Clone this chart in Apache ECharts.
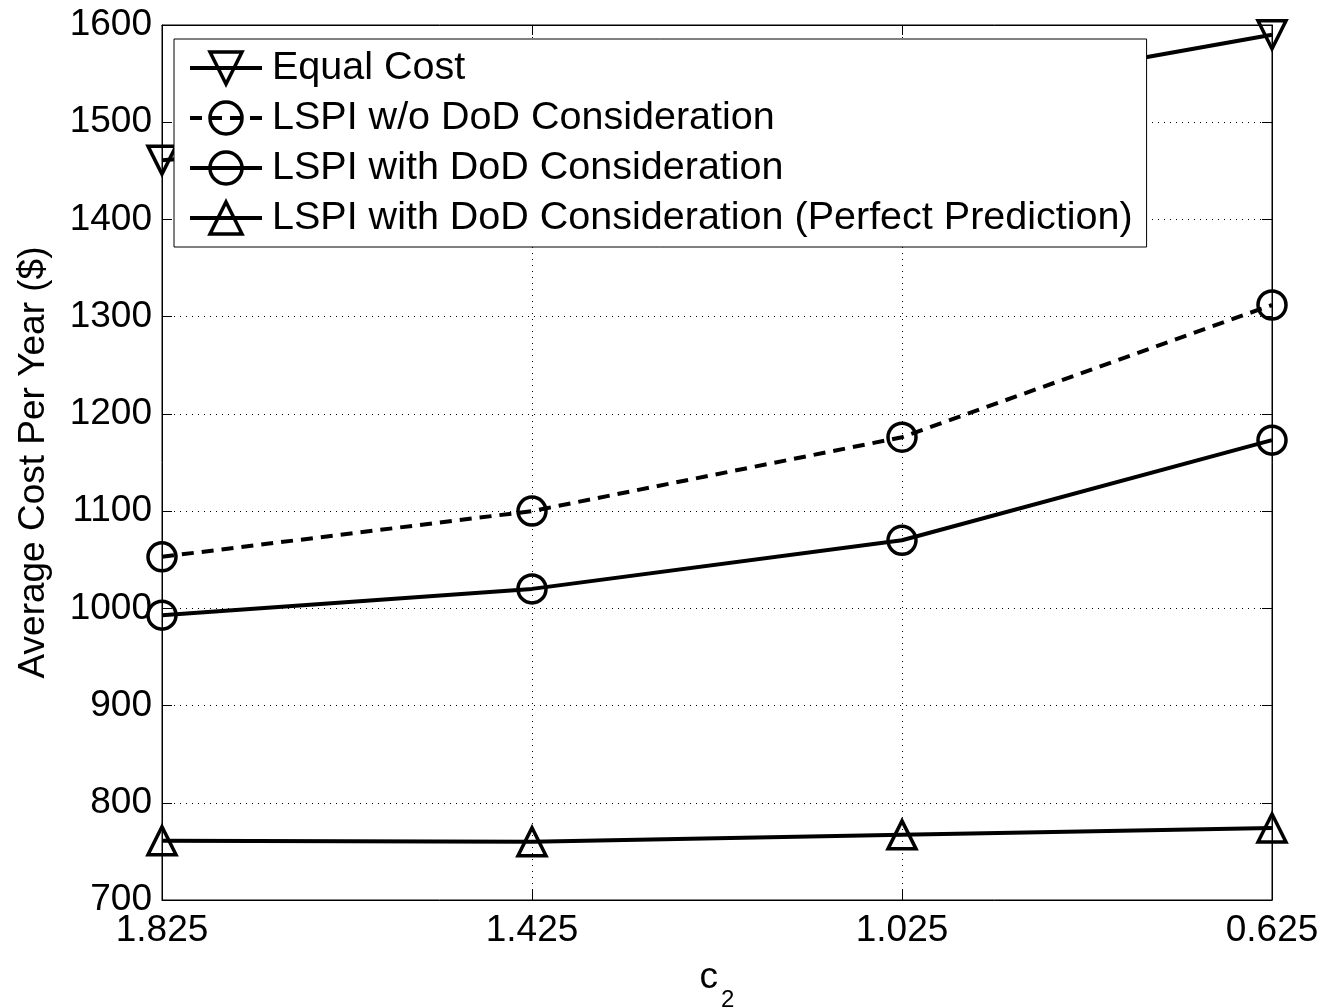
<!DOCTYPE html>
<html>
<head>
<meta charset="utf-8">
<script src="https://cdn.jsdelivr.net/npm/echarts@6/dist/echarts.min.js"></script>
<style>html,body{margin:0;padding:0;background:#fff;overflow:hidden;}#c{width:100vw;height:100vh;}</style>
</head>
<body>
<div id="c"></div>
<script>
const categories = ['1.825', '1.425', '1.025', '0.625'];
const equalCost = [1461, 1490, 1522, 1590];
const lspiWithout = [1053, 1100, 1176, 1312];
const lspiWith = [993, 1020, 1070, 1173];
const lspiPerfect = [761, 760, 767, 774];
const seriesNames = ['Equal Cost', 'LSPI w/o DoD Consideration', 'LSPI with DoD Consideration', 'LSPI with DoD Consideration (Perfect Prediction)'];

const FONT = 'Liberation Sans, Arial, sans-serif';
const chart = echarts.init(document.getElementById('c'), null, {renderer: 'canvas'});
const mk = (name, data, symbol, rotate, dashed) => ({
  name, type: 'line', data, symbol, symbolRotate: rotate, symbolSize: 28,
  showAllSymbol: true,
  lineStyle: {color: '#000', width: 4, type: dashed ? [12, 8] : 'solid'},
  itemStyle: {color: 'rgba(0,0,0,0)', borderColor: '#000', borderWidth: 3.5},
  emphasis: {disabled: true}, animation: false, z: 3
});
chart.setOption({
  animation: false,
  backgroundColor: '#fff',
  grid: {left: 162, right: 55, top: 25, bottom: 108, show: true, borderColor: '#000', borderWidth: 1, containLabel: false, outerBoundsMode: 'none'},
  legend: {
    orient: 'vertical', left: 174, top: 39, data: seriesNames,
    backgroundColor: '#fff', borderColor: '#000', borderWidth: 1,
    padding: [9, 14, 9, 14], itemGap: 10, itemWidth: 72, itemHeight: 40,
    lineStyle: {width: 4},
    itemStyle: {borderWidth: 3.5},
    textStyle: {fontFamily: FONT, fontSize: 39.5, color: '#000', lineHeight: 40, padding: [0, 0, 0, 5]},
    selectedMode: false
  },
  xAxis: [{
    type: 'category', data: categories, boundaryGap: false,
    axisLine: {lineStyle: {color: '#000', width: 1}},
    axisTick: {inside: true, length: 10, lineStyle: {color: '#000'}, alignWithLabel: true},
    axisLabel: {fontFamily: FONT, fontSize: 37, color: '#000', margin: 12, showMinLabel: true, showMaxLabel: true},
    splitLine: {show: true, lineStyle: {color: '#000', type: [1, 5], width: 1}},
    name: '{c|c}{s|2}', nameLocation: 'middle', nameGap: 59,
    nameTextStyle: {verticalAlign: 'top', rich: {
      c: {fontFamily: FONT, fontSize: 37, color: '#000', lineHeight: 37, verticalAlign: 'top'},
      s: {fontFamily: FONT, fontSize: 24, color: '#000', lineHeight: 53, verticalAlign: 'bottom', padding: [0, 0, 0, 3]}
    }}
  }, {
    type: 'category', data: categories, boundaryGap: false, position: 'top',
    axisLine: {lineStyle: {color: '#000'}},
    axisTick: {inside: true, length: 10, lineStyle: {color: '#000'}},
    axisLabel: {show: false}, splitLine: {show: false}
  }],
  yAxis: [{
    type: 'value', min: 700, max: 1600, interval: 100,
    axisLine: {show: true, lineStyle: {color: '#000', width: 1}},
    axisTick: {show: true, inside: true, length: 10, lineStyle: {color: '#000'}},
    axisLabel: {fontFamily: FONT, fontSize: 37, color: '#000', margin: 10, formatter: v => String(v)},
    splitLine: {show: true, lineStyle: {color: '#000', type: [1, 5], width: 1}},
    name: 'Average Cost Per Year ($)', nameLocation: 'middle', nameGap: 110,
    nameTextStyle: {fontFamily: FONT, fontSize: 37, color: '#000'}
  }, {
    type: 'value', min: 700, max: 1600, interval: 100, position: 'right',
    axisLine: {show: true, lineStyle: {color: '#000'}},
    axisTick: {show: true, inside: true, length: 10, lineStyle: {color: '#000'}},
    axisLabel: {show: false}, splitLine: {show: false}
  }],
  series: [
    mk(seriesNames[0], equalCost, 'triangle', 180, false),
    mk(seriesNames[1], lspiWithout, 'circle', 0, true),
    mk(seriesNames[2], lspiWith, 'circle', 0, false),
    mk(seriesNames[3], lspiPerfect, 'triangle', 0, false)
  ]
});
</script>
</body>
</html>
